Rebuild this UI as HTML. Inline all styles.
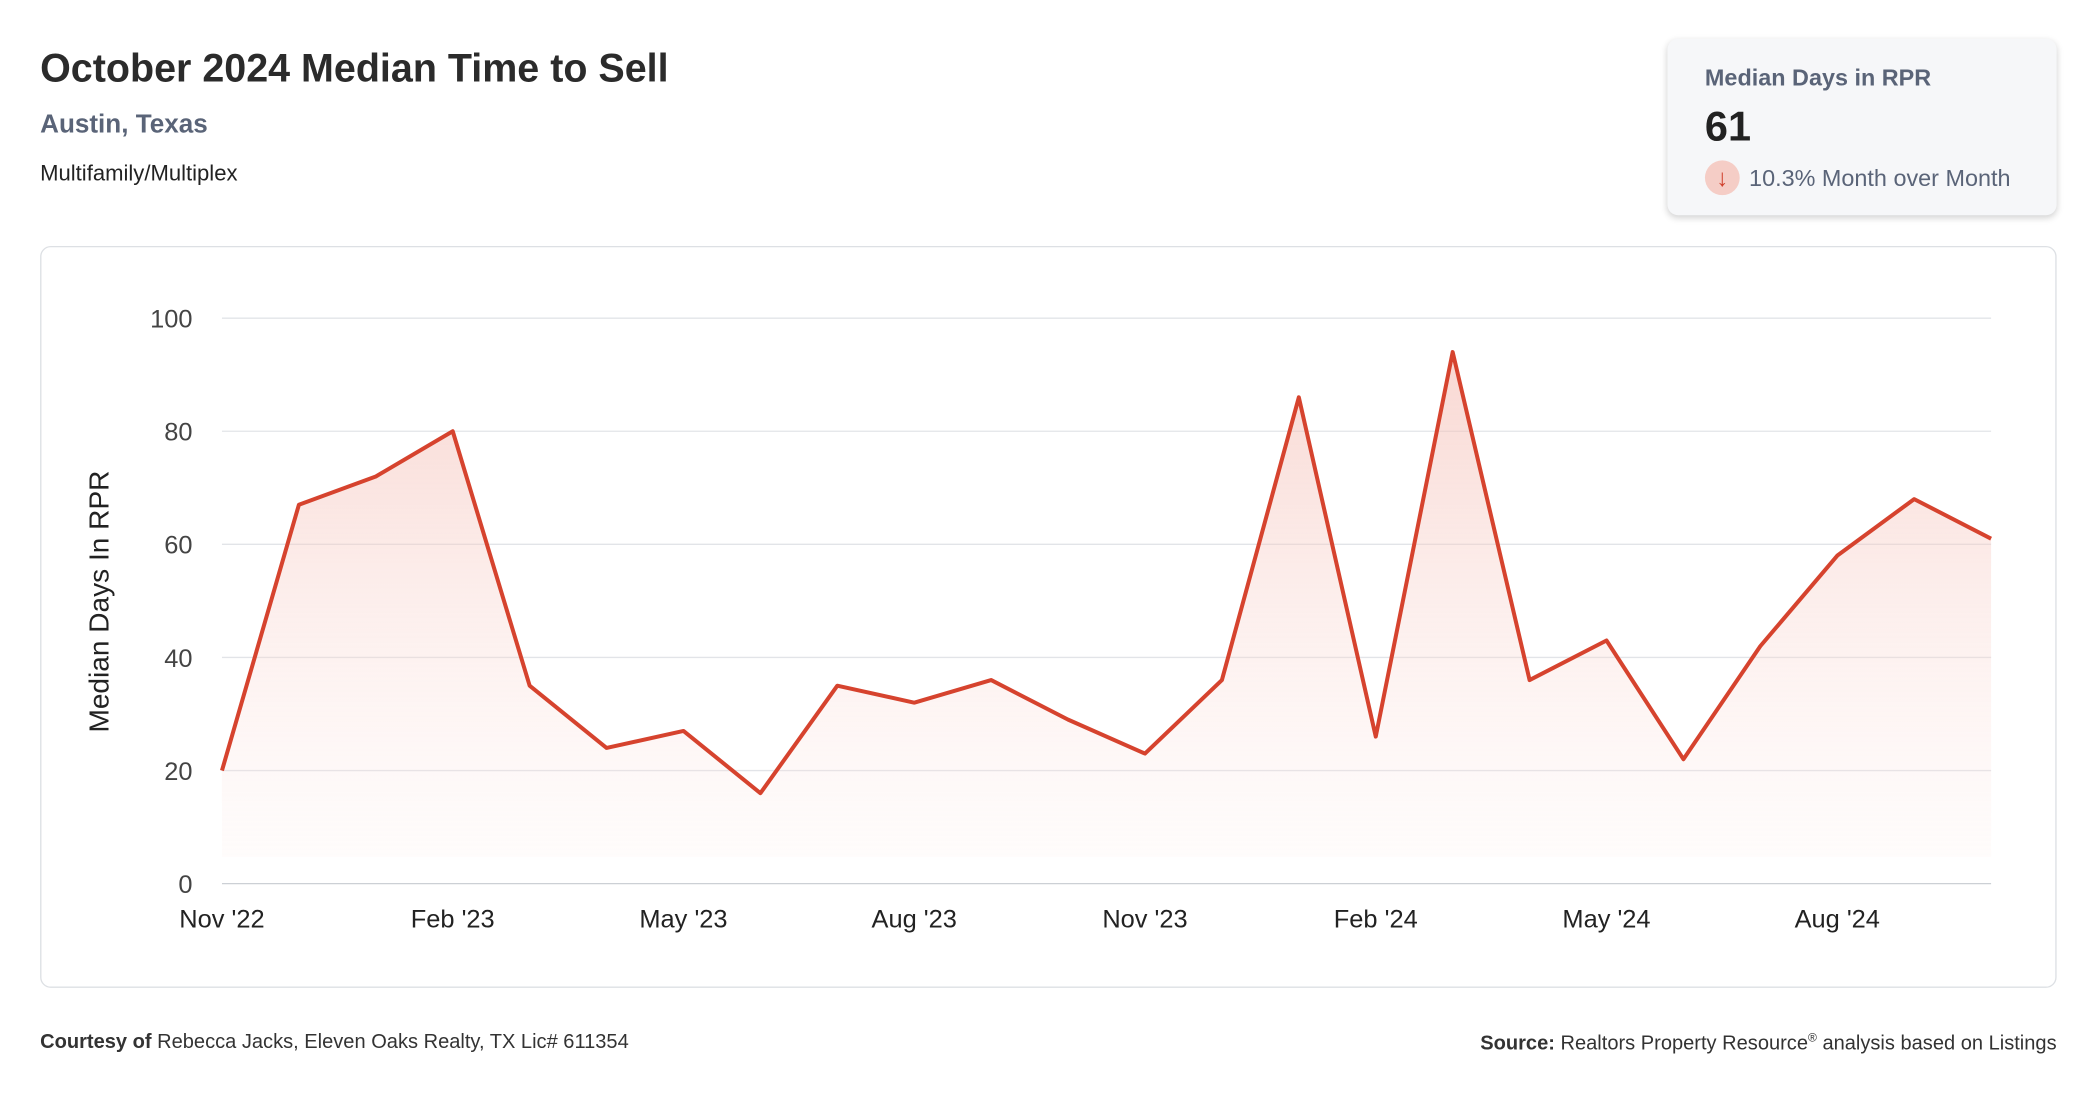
<!DOCTYPE html>
<html><head><meta charset="utf-8">
<style>
html,body{margin:0;padding:0;background:#fff;width:2096px;height:1100px;overflow:hidden}
#wrap{position:absolute;left:0;top:0;width:1560px;height:819px;transform:scale(1.3372,1.3368);transform-origin:0 0;font-family:"Liberation Sans",sans-serif;color:#222}
.t{position:absolute;white-space:nowrap}
</style></head><body>
<div id="wrap">
<div class="t" style="left:30px;top:35px;font-size:29.5px;font-weight:bold;color:#2b2b2b">October 2024 Median Time to Sell</div>
<div class="t" style="left:30px;top:82px;font-size:19.5px;font-weight:bold;color:#5a6478">Austin, Texas</div>
<div class="t" style="left:30px;top:121px;font-size:16.5px;color:#222">Multifamily/Multiplex</div>
<div style="position:absolute;left:1247px;top:29px;width:291px;height:132px;background:#f6f7f9;border-radius:8px;box-shadow:0 2px 5px rgba(0,0,0,0.18)">
 <div class="t" style="left:28px;top:19px;font-size:17.5px;font-weight:bold;color:#5a6478">Median Days in RPR</div>
 <div class="t" style="left:28px;top:48px;font-size:31px;font-weight:bold;color:#222">61</div>
 <div style="position:absolute;left:28px;top:91px;width:26px;height:26px;border-radius:13px;background:#f5cdc6;color:#d0402c;font-size:18px;text-align:center;line-height:26px">↓</div>
 <div class="t" style="left:61px;top:94px;font-size:17.5px;color:#5a6478">10.3% Month over Month</div>
</div>
<div style="position:absolute;left:30px;top:184px;width:1506px;height:553px;border:1px solid #dde0e4;border-radius:8px"></div>
<svg id="chart" width="1560" height="819" style="position:absolute;left:0;top:0">
<defs><linearGradient id="g" x1="0" y1="0" x2="0" y2="1">
<stop offset="0" stop-color="#f3b7ad" stop-opacity="0.55"/><stop offset="1" stop-color="#fde9e6" stop-opacity="0.15"/></linearGradient></defs>
<text transform="translate(81,450) rotate(-90)" text-anchor="middle" font-size="21" fill="#222" font-family="Liberation Sans">Median Days In RPR</text>
</svg>
<div class="t" style="left:30px;top:771px;font-size:15px;color:#333"><b>Courtesy of</b> Rebecca Jacks, Eleven Oaks Realty, TX Lic# 611354</div>
<div class="t" style="right:22px;top:771px;font-size:15px;color:#333"><b>Source:</b> Realtors Property Resource<sup style="font-size:9px">®</sup> analysis based on Listings</div>
</div>
<script>
const values=[20,67,72,80,35,24,27,16,35,32,36,29,23,36,86,26,94,36,43,22,42,58,68,61];
const xTickLabels=["Nov '22","Feb '23","May '23","Aug '23","Nov '23","Feb '24","May '24","Aug '24"];
const yTicks=[0,20,40,60,80,100];
const svg=document.getElementById('chart');
const NS='http://www.w3.org/2000/svg';
const x0=166,x1=1489,yBase=661,yTop=238;
const xs=i=>x0+i*(x1-x0)/(values.length-1);
const ys=v=>yBase-v*(yBase-yTop)/100;
function mk(t,a){const e=document.createElementNS(NS,t);for(const k in a)e.setAttribute(k,a[k]);svg.appendChild(e);return e;}
yTicks.forEach(v=>{
 const l=mk('line',{x1:x0,x2:x1,y1:ys(v),y2:ys(v),stroke:v===0?'#ccd0d5':'#e2e4e8','stroke-width':1});
 
 
 const t=mk('text',{x:144,y:ys(v)+7,'text-anchor':'end','font-size':19,fill:'#444','font-family':'Liberation Sans'});
 t.textContent=v;
 
 
});
xTickLabels.forEach((s,i)=>{
 const t=mk('text',{x:xs(i*3),y:694,'text-anchor':'middle','font-size':19,fill:'#222','font-family':'Liberation Sans'});
 t.textContent=s;
 
 
});
let d=values.map((v,i)=>(i?'L':'M')+xs(i)+','+ys(v)).join(' ');
const a=mk('path',{d:d+' L'+xs(values.length-1)+','+(yBase-20)+' L'+x0+','+(yBase-20)+' Z',fill:'url(#g)'});


const p=mk('path',{d:d,fill:'none',stroke:'#d6432e','stroke-width':3,'stroke-linejoin':'round'});


</script>
</body></html>
